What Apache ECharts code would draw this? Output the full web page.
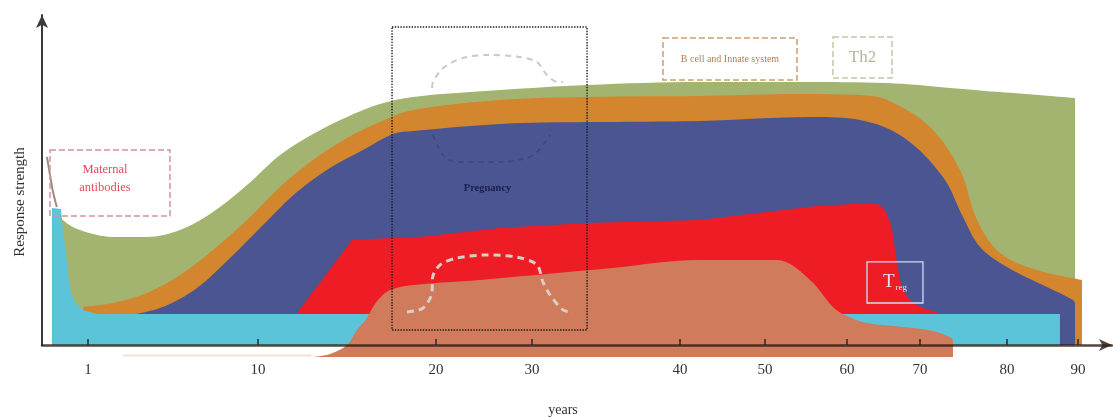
<!DOCTYPE html>
<html><head><meta charset="utf-8">
<script src="https://cdn.jsdelivr.net/npm/echarts@6/dist/echarts.min.js"></script>
<style>html,body{margin:0;padding:0;background:#fff}#c{width:1113px;height:418px}</style>
</head><body><div id="c"></div>
<script>
// ---- tick labels (ages in years) ----
const tickAges = [1, 10, 20, 30, 40, 50, 60, 70, 80, 90];
// the figure's schematic, non-linear age scale: axis position of each age anchor
const scaleAges = [0, 1, 10, 20, 30, 40, 50, 60, 70, 80, 90];
const scalePos  = [8, 46, 216, 394, 490, 638, 723, 805, 878, 965, 1036];

// ---- series: [age (years), response strength] ----
const maternalSpike = [[-0.08, 62.7], [0, 56.7], [0.08, 51], [0.18, 46]];
const th2 = [[0.18,45],[0.34,41.7],[0.79,38.3],[2.32,36],[4.12,36],[5.87,38.3],[7.62,44.3],[9.42,53.3],[11.24,63.3],[13.09,70.3],[15.0,76],[16.85,80.3],[18.71,82.7],[26.67,85],[33.72,86.7],[42.35,87.7],[54.27,87.7],[65.48,87.3],[73.45,85.7],[79.2,84.3],[89.58,82.3]];
const bCellInnate = [[0.87,12.7],[2.32,14],[4.12,17.3],[5.87,23.3],[7.62,31.7],[9.42,41.7],[11.24,52.7],[13.09,61.7],[15.0,69],[16.85,74.3],[18.71,78.3],[26.67,81.7],[33.72,82.7],[42.35,83],[54.27,83.7],[61.78,83.3],[65.48,81.7],[71.15,72.7],[74.6,58.3],[76.55,41.7],[79.2,30.7],[84.23,25],[90.56,21.7]];
const tCells = [[3.22,10],[4.97,12.7],[6.77,19],[8.52,29],[10.28,40],[12.19,51],[14.04,59],[15.9,65],[17.58,70.3],[18.71,71.3],[26.67,73.7],[33.72,74.3],[42.35,74.7],[55.85,76],[61.78,75],[67.67,69.3],[72.64,56],[74.94,42.7],[76.9,32.7],[80,26],[85.63,19.3],[89.3,15],[89.58,14]];
const effector = [[12.19,10.7],[15.28,35],[17.58,35.7],[19.1,36],[26.67,39],[33.72,40.7],[42.35,41.7],[52.2,45],[56.34,46.3],[63.15,47.3],[64.52,46.7],[65.34,44.3],[65.89,41],[66.3,36.7],[66.58,31.7],[66.85,27.3],[67.26,21.7],[67.67,18.3],[68.36,15.7],[69.32,13.7],[70.57,12],[71.95,11]];
const innateBase = [[0.05,45.7],[0.29,45.3],[0.34,38.3],[0.45,27.3],[0.53,18.3],[0.66,14],[0.87,11.7],[1.48,10.3],[87.46,10.3]];
const treg = [[13.09,-4],[14.04,-3],[15.0,0],[15.56,5],[16.12,9],[16.46,12.7],[16.85,15.7],[17.42,18.3],[18.71,20],[24.58,21.7],[33.72,24.9],[35.47,25.7],[42.35,28.3],[51.46,28.3],[55.49,21.7],[58.29,12.7],[59.76,10],[62.74,7.3],[67.67,6],[71.49,4.7],[73.45,2.7],[73.79,1.7]];
const creamEdge = [[2.85,-3.5],[13.0,-3.5]];
const pregUpper = [[19.78,85.7],[19.83,87.7],[20.73,92.3],[22.81,95.7],[25.63,96.7],[28.75,96],[30.34,94.3],[31.01,90],[31.69,87.7],[32.09,87.7]];
const pregLower = [[18.37,11],[19.27,12.3],[19.78,17.7],[19.8,22.3],[20.42,26.7],[22.19,29],[25.31,30],[28.44,29.3],[30.34,26.7],[30.74,21],[31.22,16.7],[32.09,11.7],[32.77,11]];
const pregMid = [[19.83,70],[20.73,63.3],[22.19,61],[26.67,61],[30.07,63.3],[31.22,70]];

// ---- annotation boxes: [[age, strength], [age, strength]] ----
const maternalBox = [[0, 65], [5.34, 43]];
const pregnancyBox = [[17.53, 106], [33.72, 5]];
const bCellBox = [[38.85, 102.3], [53.9, 88.3]];
const th2Box = [[58.29, 102.7], [66.16, 89]];
const tregBox = [[62.74, 27.7], [70.34, 14]];

function agePos(a) {
  const n = scaleAges.length;
  if (a <= scaleAges[0]) return scalePos[0] + (a - scaleAges[0]) * 38;
  if (a >= scaleAges[n - 1]) return scalePos[n - 1] + (a - scaleAges[n - 1]) * 7.1;
  for (let i = 0; i < n - 1; i++) {
    if (a <= scaleAges[i + 1]) {
      const t = (a - scaleAges[i]) / (scaleAges[i + 1] - scaleAges[i]);
      return scalePos[i] + t * (scalePos[i + 1] - scalePos[i]);
    }
  }
}
const toXY = arr => arr.map(([a, v]) => [agePos(a), v]);
const tickPos = tickAges.map(agePos);
const SERIF = '"Liberation Serif", "DejaVu Serif", serif';

function area(name, data, color, extra) {
  return Object.assign({
    type: 'line', name, data: toXY(data), symbol: 'none', showSymbol: false,
    lineStyle: { width: 0, opacity: 0 }, areaStyle: { color, opacity: 1 },
    smooth: 0.35, silent: true, animation: false
  }, extra || {});
}
function curve(name, data, color, width, dash, extra) {
  return Object.assign({
    type: 'line', name, data: toXY(data), symbol: 'none', showSymbol: false,
    lineStyle: { color, width, type: dash }, smooth: 0.3, silent: true, animation: false, z: 4
  }, extra || {});
}
function box(pts, border, bType, bWidth, label) {
  return [
    { xAxis: agePos(pts[0][0]), yAxis: pts[0][1],
      itemStyle: { color: 'rgba(0,0,0,0)', borderColor: border, borderWidth: bWidth, borderType: bType },
      label: Object.assign({ show: true, position: 'inside' }, label) },
    { xAxis: agePos(pts[1][0]), yAxis: pts[1][1] }
  ];
}

const chart = echarts.init(document.getElementById('c'), null, { renderer: 'canvas' });
chart.setOption({
  animation: false,
  backgroundColor: '#ffffff',
  grid: { left: 42, right: 1, top: 15, bottom: 73, outerBoundsMode: 'none' },
  xAxis: {
    type: 'value', min: 0, max: 1070, z: 10,
    name: 'years', nameLocation: 'middle', nameGap: 58,
    nameTextStyle: { fontFamily: SERIF, fontSize: 14, color: '#333', padding: [0, 28, 0, 0] },
    axisLine: { show: true, onZero: true, symbol: ['none', 'arrow'], symbolSize: [9, 13],
      lineStyle: { color: 'rgba(45,30,20,0.82)', width: 2.5 } },
    axisTick: { show: true, inside: true, length: 6, customValues: tickPos,
      lineStyle: { color: '#2a2a2a', width: 1.5 } },
    axisLabel: { show: true, customValues: tickPos, margin: 18, fontFamily: SERIF, fontSize: 15, color: '#333',
      formatter: v => { const i = tickPos.findIndex(p => Math.abs(p - v) < 0.5); return i >= 0 ? String(tickAges[i]) : ''; } },
    splitLine: { show: false }
  },
  yAxis: {
    type: 'value', min: 0, max: 110, z: 10,
    name: 'Response strength', nameLocation: 'middle', nameGap: 14, nameRotate: 90,
    nameTextStyle: { fontFamily: SERIF, fontSize: 15, color: '#333', padding: [0, 44, 0, 0] },
    axisLine: { show: true, symbol: ['none', 'arrow'], symbolSize: [9, 13],
      lineStyle: { color: '#3a3a3a', width: 2 } },
    axisTick: { show: false }, axisLabel: { show: false }, splitLine: { show: false }
  },
  series: [
    area('Th2', th2, '#a3b370'),
    area('B cell and Innate system', bCellInnate, '#d3862e'),
    area('T cells', tCells, '#4b5592'),
    area('Effector', effector, '#ee1c25', { smooth: false }),
    area('Innate baseline', innateBase, '#5cc4d8', { smooth: false }),
    area('Treg', treg, '#d17b5d', { clip: false, areaStyle: { color: '#d17b5d', opacity: 1, origin: -4 } }),
    curve('Maternal antibodies', maternalSpike, '#a08a7c', 2, 'solid', { clip: false }),
    curve('edge', creamEdge, '#f1e3cb', 2, 'solid', { clip: false }),
    curve('Pregnancy upper', pregUpper, '#c9c9c6', 2, [6, 5]),
    curve('Pregnancy mid', pregMid, 'rgba(40,46,110,0.4)', 1.5, [5, 5]),
    curve('Pregnancy lower', pregLower, '#d9cfc4', 3, [7, 5]),
    {
      type: 'line', name: 'annotations', data: [], z: 6, silent: true,
      markArea: {
        silent: true, z: 20,
        data: [
          box(maternalBox, '#d8909a', 'dashed', 1.5,
            { formatter: 'Maternal\nantibodies', color: '#e44a5c', fontFamily: SERIF, fontSize: 12.5, lineHeight: 18, offset: [-5, -4] }),
          box(pregnancyBox, '#1a1a1a', 'dotted', 1.4,
            { formatter: 'Pregnancy', color: '#1b1f50', fontFamily: SERIF, fontSize: 10.5, fontWeight: 'bold', offset: [-2, 10] }),
          box(bCellBox, '#d49a6c', 'dashed', 1.5,
            { formatter: 'B cell and Innate system', color: '#b87a50', fontFamily: SERIF, fontSize: 10 }),
          box(th2Box, '#c4c6a8', 'dashed', 1.5,
            { formatter: 'Th2', color: '#b2b698', fontFamily: SERIF, fontSize: 17 }),
          box(tregBox, '#cddff3', 'solid', 1.3,
            { formatter: '{t|T}{s|reg}', rich: {
                t: { color: '#e2e2ee', fontFamily: SERIF, fontSize: 19 },
                s: { color: '#e2e2ee', fontFamily: SERIF, fontSize: 9, padding: [10, 0, 0, 1] } } })
        ]
      }
    }
  ]
});
</script></body></html>
